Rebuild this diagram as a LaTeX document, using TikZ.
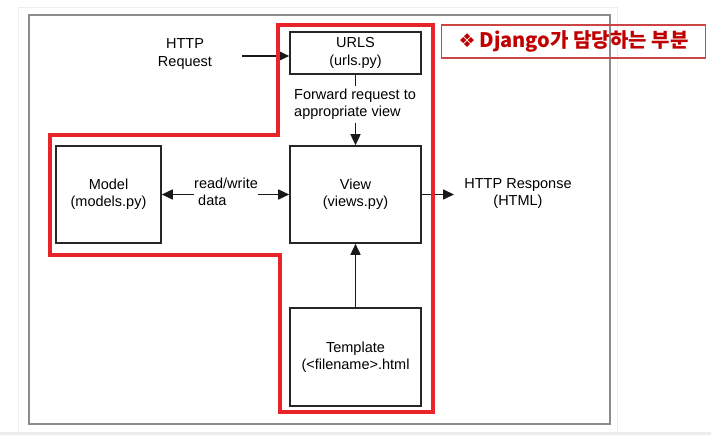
\documentclass[tikz,border=0pt]{standalone}
\usepackage{fontspec}
\setmainfont{Liberation Sans}
\newfontfamily\krfont{Noto Sans CJK KR}
\newfontfamily\symfont{DejaVu Sans}
\usetikzlibrary{arrows.meta}
\definecolor{redline}{HTML}{E8232A}
\definecolor{labelred}{HTML}{C00000}
\definecolor{labelborder}{HTML}{CC4444}
\definecolor{framegray}{HTML}{8C8C8C}
\definecolor{panelgray}{HTML}{EDEDED}
\tikzset{
  box/.style={draw=black!85, line width=1.6pt, minimum width=131pt, minimum height=97pt, inner sep=0pt, align=center, font=\fontsize{14.5}{17.5}\selectfont},
  plain/.style={align=center, inner sep=0pt, font=\fontsize{14.5}{17.5}\selectfont},
  arr/.style={line width=1.6pt, draw=black!90, -{Triangle[length=11pt,width=10pt]}},
  conn/.style={line width=1.6pt, draw=black!90},
}
\begin{document}
\begin{tikzpicture}[x=1pt,y=-1pt]
\useasboundingbox (0,0) rectangle (711,435);
\fill[white] (0,0) rectangle (711,435);
% panel edges
\draw[panelgray, line width=1pt] (18,8) -- (617,8) -- (617,432);
\draw[panelgray, line width=1pt] (18,8) -- (18,432);
\fill[panelgray] (0,432) rectangle (711,435);
% outer frame
\draw[framegray, line width=1.8pt] (29,15) rectangle (610,424);

% boxes
\node[box, minimum height=42pt] (urls) at (355.5,53) {URLS\\(urls.py)};
\node[box] (view) at (355.5,194.5) {View\\(views.py)};
\node[box, minimum width=105pt] (model) at (108.5,194.5) {Model\\(models.py)};
\node[box, minimum height=98pt] (tmpl) at (355.5,357) {Template\\(<filename>.html};

% labels
\node[plain] (req) at (185,54) {HTTP\\Request};
\node[plain, align=left, anchor=west, minimum height=36pt] (fwd) at (294,104.5) {Forward request to\\appropriate view};
\node[plain, align=left, anchor=west] (rw) at (194,192) {read/write\\\hspace*{4pt}data};
\node[plain] (resp) at (518,193.5) {HTTP Response\\(HTML)};
\coordinate (reqstart) at (242,56);
\coordinate (respend) at (454,194.5);

% connectors
\draw[arr] (reqstart) -- (reqstart -| urls.west);
\draw[conn] (urls.south) -- (urls.south |- fwd.north);
\draw[arr] (view.north |- fwd.south) -- (view.north);
\draw[arr] (model.east -| rw.west) -- (model.east);
\draw[arr] (view.west -| rw.east) -- (view.west);
\draw[arr] (view.east) -- (respend);
\draw[arr] (tmpl.north) -- (view.south);

% red region
\draw[redline, line width=3.2pt, line join=miter] (278,25) -- (433,25) -- (433,412) -- (280,412) -- (280,255) -- (50,255) -- (50,135) -- (278,135) -- cycle;

% red label
\node[draw=labelborder, line width=1.2pt, minimum width=264pt, minimum height=33pt, inner sep=0pt, text=labelred] (title) at (573.5,41.5)
  {{\symfont\bfseries\fontsize{19}{22}\selectfont ❖}\hspace{4pt}{\krfont\bfseries\fontsize{20}{24}\selectfont Django가 담당하는 부분}};
\end{tikzpicture}
\end{document}
